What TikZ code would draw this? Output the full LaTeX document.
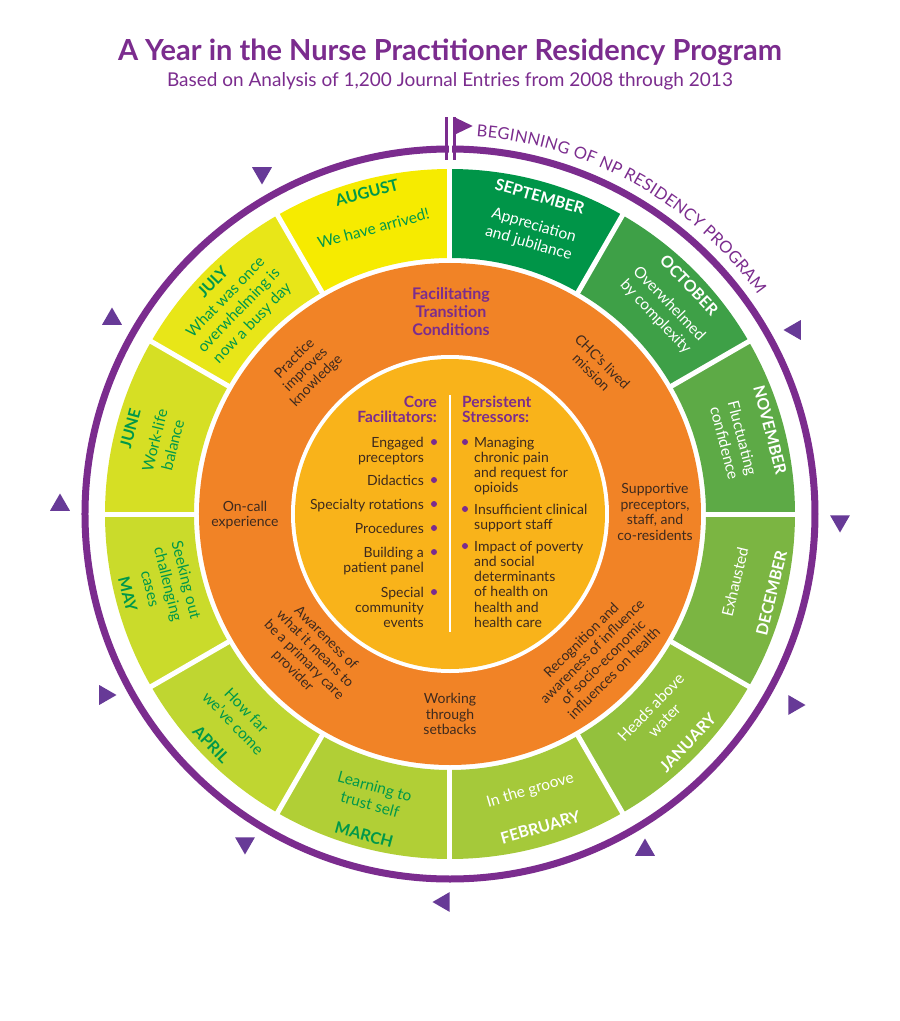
\documentclass[tikz,border=0pt]{standalone}
\usepackage{fontspec}
\setmainfont{Lato}
\usetikzlibrary{shapes.geometric,decorations.text}
\definecolor{npurple}{HTML}{7B2C8E}
\definecolor{tripurple}{HTML}{673A97}
\definecolor{ringorange}{HTML}{F18326}
\definecolor{coreyellow}{HTML}{F9B31A}
\definecolor{browntext}{HTML}{3E2A1E}
\definecolor{greentext}{HTML}{00984A}
\definecolor{mSep}{HTML}{009548}
\definecolor{mOct}{HTML}{3EA047}
\definecolor{mNov}{HTML}{5DAA46}
\definecolor{mDec}{HTML}{7BB542}
\definecolor{mJan}{HTML}{93C13D}
\definecolor{mFeb}{HTML}{A5C93A}
\definecolor{mMar}{HTML}{B1CF36}
\definecolor{mApr}{HTML}{BFD631}
\definecolor{mMay}{HTML}{CADB2B}
\definecolor{mJun}{HTML}{D6DF24}
\definecolor{mJul}{HTML}{E8E618}
\definecolor{mAug}{HTML}{F6EB00}
\begin{document}
\begin{tikzpicture}[x=1pt,y=1pt,
  monthname/.style={font=\fontsize{16}{18}\selectfont\bfseries, inner sep=0, align=center},
  monthdesc/.style={font=\fontsize{15.5}{18.5}\selectfont, inner sep=0, align=center},
  ringtxt/.style={font=\fontsize{14}{15.5}\selectfont, text=browntext, inner sep=0, align=center},
  coretxt/.style={font=\fontsize{14}{15}\selectfont, text=browntext, inner sep=0},
  corehead/.style={font=\fontsize{15.5}{15}\selectfont\bfseries, text=npurple, inner sep=0},
  bullet/.style={circle, fill=npurple, minimum size=6pt, inner sep=0},
  tri/.style={regular polygon, regular polygon sides=3, fill=tripurple, minimum size=23pt, inner sep=0},
  wtext/.style={text=white},
  gtext/.style={text=greentext}]
\useasboundingbox (-450,-507) rectangle (450,514);
\fill[white] (-450,-507) rectangle (450,514);

% title
\node[font=\fontsize{29}{32}\selectfont\bfseries, text=npurple, inner sep=0] (title) at (0,462) {A Year in the Nurse Practitioner Residency Program};
\node[font=\fontsize{19}{22}\selectfont, text=npurple, inner sep=0] (subtitle) at (0,433) {Based on Analysis of 1,200 Journal Entries from 2008 through 2013};

% month sectors
\foreach \a/\c in {60/mSep,30/mOct,0/mNov,-30/mDec,-60/mJan,-90/mFeb,-120/mMar,-150/mApr,-180/mMay,150/mJun,120/mJul,90/mAug}
  \fill[\c] (\a:256) arc[start angle=\a, delta angle=30, radius=256pt] -- ({\a+30}:345) arc[start angle=\a+30, delta angle=-30, radius=345pt] -- cycle;
\foreach \a in {0,30,...,330}
  \draw[white, line width=5pt] (\a:250) -- (\a:350);

% orange ring and core
\fill[ringorange] (0,0) circle[radius=251pt];
\fill[white] (0,0) circle[radius=159pt];
\fill[coreyellow] (0,0) circle[radius=155pt];
\coordinate (vt) at (0,119);
\coordinate (vb) at (0,-118);
\draw[white, line width=2.5pt] (vt) -- (vb);

% purple ring, flag
\draw[npurple, line width=7pt] (0,0) circle[radius=365pt];
\fill[white] (-1.2,350) rectangle (2.2,376);
\coordinate (pl1) at (-3.3,354); \coordinate (pl2) at (-3.3,397);
\coordinate (pr1) at (4.3,354); \coordinate (pr2) at (4.3,397);
\draw[npurple, line width=3pt] (pl1) -- (pl2);
\draw[npurple, line width=3pt] (pr1) -- (pr2);
\fill[npurple] (4,397) -- (22.7,388) -- (4,379) -- cycle;

% curved label
\path[decorate, decoration={text along path, text align={fit to path}, text color=npurple,
  text={|\fontsize{16.5}{17}\selectfont|BEGINNING OF NP RESIDENCY PROGRAM}}]
  (86:378) arc[start angle=86, end angle=35.5, radius=378pt];

% triangles
\node[tri, rotate=180] (t1) at (-188,341) {};
\node[tri, rotate=90] (t2) at (345,184) {};
\node[tri, rotate=180] (t3) at (390,-7) {};
\node[tri, rotate=-90] (t4) at (344,-191) {};
\node[tri] (t5) at (195,-336) {};
\node[tri, rotate=90] (t6) at (-6,-388) {};
\node[tri, rotate=180] (t7) at (-205,-329) {};
\node[tri, rotate=-90] (t8) at (-345,-181) {};
\node[tri] (t9) at (-390,9) {};
\node[tri] (t10) at (-338,195) {};

% months
\node[monthname, wtext, rotate=-15.8] (sepN) at (74.2:330) {SEPTEMBER};
\node[monthdesc, wtext, rotate=-16.2] (sepD) at (73.8:291) {Appreciation\\and jubilance};
\node[monthname, wtext, rotate=-46.3] (octN) at (43.7:331) {OCTOBER};
\node[monthdesc, wtext, rotate=-46.2] (octD) at (43.8:294) {Overwhelmed\\by complexity};
\node[monthname, wtext, rotate=-75.3] (novN) at (14.7:331) {NOVEMBER};
\node[monthdesc, wtext, rotate=-75.5] (novD) at (14.5:293) {Fluctuating\\confidence};
\node[monthname, wtext, rotate=76.2] (decN) at (-13.8:331) {DECEMBER};
\node[monthdesc, wtext, rotate=76.6] (decD) at (-13.4:293) {Exhausted};
\node[monthname, wtext, rotate=46.1] (janN) at (-43.9:330) {JANUARY};
\node[monthdesc, wtext, rotate=46.1] (janD) at (-43.9:288) {Heads above\\water};
\node[monthname, wtext, rotate=16.1] (febN) at (-73.9:326) {FEBRUARY};
\node[monthdesc, wtext, rotate=16.2] (febD) at (-73.8:288) {In the groove};
\node[monthname, gtext, rotate=-15] (marN) at (-105:332) {MARCH};
\node[monthdesc, gtext, rotate=-15.4] (marD) at (-105.4:292) {Learning to\\trust self};
\node[monthname, gtext, rotate=-46] (aprN) at (-136:332) {APRIL};
\node[monthdesc, gtext, rotate=-46] (aprD) at (-136:292) {How far\\we’ve come};
\node[monthname, gtext, rotate=-76] (mayN) at (-166:332) {MAY};
\node[monthdesc, gtext, rotate=-76] (mayD) at (-166:290) {Seeking out\\challenging\\cases};
\node[monthname, gtext, rotate=75] (junN) at (165:331) {JUNE};
\node[monthdesc, gtext, rotate=76] (junD) at (166:295) {Work-life\\balance};
\node[monthname, gtext, rotate=45.6] (julN) at (135.6:332) {JULY};
\node[monthdesc, gtext, rotate=46] (julD) at (136:293) {What was once\\overwhelming is\\now a busy day};
\node[monthname, gtext, rotate=14.5] (augN) at (104.5:332) {AUGUST};
\node[monthdesc, gtext, rotate=15] (augD) at (105:296) {We have arrived!};

% orange ring texts
\node[font=\fontsize{16}{18}\selectfont\bfseries, text=npurple, align=center, inner sep=0] (ftc) at (1,202) {Facilitating\\Transition\\Conditions};
\node[ringtxt, rotate=45] (practice) at (135:204) {Practice\\improves\\knowledge};
\node[ringtxt, rotate=-45] (chc) at (45:208) {CHC’s lived\\mission};
\node[ringtxt] (oncall) at (-205,-1) {On-call\\experience};
\node[ringtxt] (supportive) at (205,2) {Supportive\\preceptors,\\staff, and\\co-residents};
\node[ringtxt] (working) at (0,-200) {Working\\through\\setbacks};
\node[ringtxt, rotate=-45] (awareness) at (-135:199) {Awareness of\\what it means to\\be a primary care\\provider};
\node[ringtxt, rotate=45] (recognition) at (-44:205) {Recognition and\\awareness of influence\\of socio-economic\\influences on health};

% core: facilitators
\node[corehead, anchor=base east] (cfh1) at (-13,107) {Core};
\node[corehead, anchor=base east] (cfh2) at (-13,92) {Facilitators:};
\node[coretxt, anchor=base east] (cf1a) at (-26,67) {Engaged};
\node[coretxt, anchor=base east] (cf1b) at (-26,52) {preceptors};
\node[coretxt, anchor=base east] (cf2) at (-26,29) {Didactics};
\node[coretxt, anchor=base east] (cf3) at (-26,5) {Specialty rotations};
\node[coretxt, anchor=base east] (cf4) at (-26,-19) {Procedures};
\node[coretxt, anchor=base east] (cf5a) at (-26,-43) {Building a};
\node[coretxt, anchor=base east] (cf5b) at (-26,-58) {patient panel};
\node[coretxt, anchor=base east] (cf6a) at (-26,-83) {Special};
\node[coretxt, anchor=base east] (cf6b) at (-26,-98) {community};
\node[coretxt, anchor=base east] (cf6c) at (-26,-113) {events};
\node[bullet] (bl1) at (-16,72) {};
\node[bullet] (bl2) at (-16,34) {};
\node[bullet] (bl3) at (-16,10) {};
\node[bullet] (bl4) at (-16,-14) {};
\node[bullet] (bl5) at (-16,-38) {};
\node[bullet] (bl6) at (-16,-78) {};

% core: stressors
\node[corehead, anchor=base west] (psh1) at (12,107) {Persistent};
\node[corehead, anchor=base west] (psh2) at (12,92) {Stressors:};
\node[coretxt, anchor=base west] (ps1a) at (24,67) {Managing};
\node[coretxt, anchor=base west] (ps1b) at (24,52) {chronic pain};
\node[coretxt, anchor=base west] (ps1c) at (24,37) {and request for};
\node[coretxt, anchor=base west] (ps1d) at (24,22) {opioids};
\node[coretxt, anchor=base west] (ps2a) at (24,0) {Insufficient clinical};
\node[coretxt, anchor=base west] (ps2b) at (24,-15) {support staff};
\node[coretxt, anchor=base west] (ps3a) at (24,-37) {Impact of poverty};
\node[coretxt, anchor=base west] (ps3b) at (24,-52) {and social};
\node[coretxt, anchor=base west] (ps3c) at (24,-67) {determinants};
\node[coretxt, anchor=base west] (ps3d) at (24,-82) {of health on};
\node[coretxt, anchor=base west] (ps3e) at (24,-98) {health and};
\node[coretxt, anchor=base west] (ps3f) at (24,-113) {health care};
\node[bullet] (br1) at (15,72) {};
\node[bullet] (br2) at (15,5) {};
\node[bullet] (br3) at (15,-32) {};
\end{tikzpicture}
\end{document}
